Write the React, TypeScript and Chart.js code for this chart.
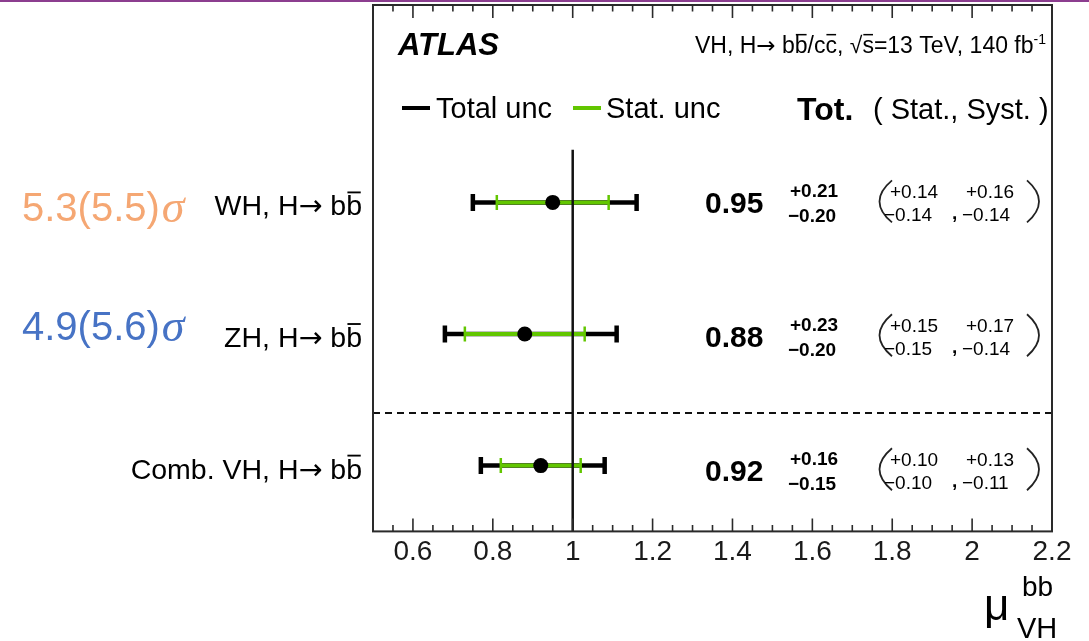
import React, { useEffect, useRef } from "react";
import { Chart, registerables } from "chart.js";

Chart.register(...registerables);

// Measurements: signal strength per channel with total / stat / syst uncertainties
const categories = ["WH", "ZH", "Comb. VH"];
const rowPositions = [3, 2, 1];
const muValues = [0.95, 0.88, 0.92];
const totalUp = [0.21, 0.23, 0.16];
const totalDown = [0.2, 0.2, 0.15];
const statUp = [0.14, 0.15, 0.1];
const statDown = [0.14, 0.15, 0.1];
const systUp = [0.16, 0.17, 0.13];
const systDown = [0.14, 0.14, 0.11];

// Observed (expected) significances for the individual channels
const observedSignificance = [5.3, 4.9];
const expectedSignificance = [5.5, 5.6];
const significanceColors = ["#F5A773", "#4773C5"];

// Axis
const xTickValues = [0.6, 0.8, 1.0, 1.2, 1.4, 1.6, 1.8, 2.0, 2.2];
const X_MIN = 0.5;
const X_MAX = 2.2;
const Y_MIN = 0.5;
const Y_MAX = 4.5;
const REFERENCE_MU = 1;
const REFERENCE_TOP = 3.4;
const SEPARATOR_Y = 1.4;

const SANS = '"Liberation Sans", Arial, Helvetica, sans-serif';
const ARROW = '"DejaVu Sans", sans-serif';
const SERIF = '"Liberation Serif", "DejaVu Serif", serif';
const BLACK = "#000000";
const GREEN = "#62C600";

type Seg = { t: string; bar?: boolean; sup?: boolean; family?: string };

function drawRich(
  ctx: CanvasRenderingContext2D,
  segs: Seg[],
  x: number,
  baseline: number,
  size: number,
  weight: string,
  align: "left" | "right",
  color: string
) {
  const fontOf = (s: Seg) =>
    `${weight} ${s.sup ? Math.round(size * 0.62) : size}px ${s.family || SANS}`;
  const widths = segs.map((s) => {
    ctx.font = fontOf(s);
    return ctx.measureText(s.t).width;
  });
  const total = widths.reduce((a, b) => a + b, 0);
  let cx = align === "right" ? x - total : x;
  ctx.fillStyle = color;
  ctx.textAlign = "left";
  ctx.textBaseline = "alphabetic";
  segs.forEach((s, k) => {
    ctx.font = fontOf(s);
    const by = s.sup ? baseline - size * 0.42 : baseline;
    ctx.fillText(s.t, cx, by);
    if (s.bar) {
      const w = widths[k];
      ctx.fillRect(cx + w * 0.08, baseline - size * 0.84, w * 0.84, Math.max(1.3, size * 0.065));
    }
    cx += widths[k];
  });
}

function text(
  ctx: CanvasRenderingContext2D,
  s: string,
  x: number,
  centerY: number,
  font: string,
  size: number,
  align: CanvasTextAlign = "left",
  color = BLACK
) {
  ctx.font = font;
  ctx.fillStyle = color;
  ctx.textAlign = align;
  ctx.textBaseline = "alphabetic";
  ctx.fillText(s, x, centerY + size * 0.358);
}

function paren(ctx: CanvasRenderingContext2D, endX: number, bulgeX: number, cy: number, half: number) {
  ctx.beginPath();
  ctx.moveTo(endX, cy - half);
  ctx.quadraticCurveTo(bulgeX, cy, endX, cy + half);
  ctx.stroke();
}

const fmtUp = (v: number) => `+${v.toFixed(2)}`;
const fmtDown = (v: number) => `\u2212${v.toFixed(2)}`;

const decorations = {
  id: "atlasDecorations",
  afterDraw(chart: any) {
    const { ctx, chartArea: a, scales } = chart;
    const xs = scales.x;
    const ys = scales.y;
    ctx.save();

    // slide rule along the top edge
    ctx.fillStyle = "#8C3D8F";
    ctx.fillRect(0, 0, chart.width, 2);

    // frame
    ctx.strokeStyle = "#2a2a2a";
    ctx.lineWidth = 2;
    ctx.strokeRect(a.left, a.top, a.right - a.left, a.bottom - a.top);

    // inward tick marks on the top and bottom edges
    ctx.lineWidth = 1.6;
    for (let i = 11; i < 44; i++) {
      const v = i / 20;
      const px = xs.getPixelForValue(v);
      const len = i % 4 === 0 ? 13 : 6.5;
      ctx.beginPath();
      ctx.moveTo(px, a.bottom);
      ctx.lineTo(px, a.bottom - len);
      ctx.moveTo(px, a.top);
      ctx.lineTo(px, a.top + len);
      ctx.stroke();
    }

    // header
    text(ctx, "ATLAS", 398, 44, `italic bold 31px ${SANS}`, 31);
    drawRich(
      ctx,
      [
        { t: "VH, H" },
        { t: "\u2192", family: ARROW },
        { t: " b" },
        { t: "b", bar: true },
        { t: "/c" },
        { t: "c", bar: true },
        { t: ", \u221A" },
        { t: "s", bar: true },
        { t: "=13 TeV, 140 fb" },
        { t: "-1", sup: true },
      ],
      1046,
      45 + 23 * 0.358,
      23,
      "normal",
      "right",
      BLACK
    );

    // legend
    ctx.fillStyle = BLACK;
    ctx.fillRect(402, 106, 28, 4);
    text(ctx, "Total unc", 436, 108, `29px ${SANS}`, 29);
    ctx.fillStyle = GREEN;
    ctx.fillRect(573, 106, 28, 4);
    text(ctx, "Stat. unc", 606, 108, `29px ${SANS}`, 29);
    text(ctx, "Tot.", 797, 109, `bold 32px ${SANS}`, 32);
    text(ctx, "( Stat., Syst. )", 873, 109, `29px ${SANS}`, 29);

    // per-row annotations
    categories.forEach((name, i) => {
      const cy = ys.getPixelForValue(rowPositions[i]);
      const ty = cy + (rowPositions[0] - rowPositions[i]) * 2.3;

      drawRich(
        ctx,
        [{ t: `${name}, H` }, { t: "\u2192", family: ARROW }, { t: " b" }, { t: "b", bar: true }],
        362,
        cy + 3 + 28 * 0.358,
        28.5,
        "normal",
        "right",
        BLACK
      );

      if (i < observedSignificance.length) {
        const sy = cy + (i === 0 ? 4 : -8);
        const main = `${observedSignificance[i].toFixed(1)}(${expectedSignificance[i].toFixed(1)})`;
        ctx.font = `40px ${SANS}`;
        const w = ctx.measureText(main).width;
        text(ctx, main, 22, sy, `40px ${SANS}`, 40, "left", significanceColors[i]);
        text(ctx, "\u03C3", 22 + w + 2, sy + 1, `italic 46px ${SERIF}`, 40, "left", significanceColors[i]);
      }

      text(ctx, muValues[i].toFixed(2), 705, ty, `bold 30px ${SANS}`, 30);
      text(ctx, fmtUp(totalUp[i]), 790, ty - 12, `bold 19px ${SANS}`, 19);
      text(ctx, fmtDown(totalDown[i]), 788, ty + 13, `bold 19px ${SANS}`, 19);

      ctx.strokeStyle = "#222222";
      ctx.lineWidth = 1.8;
      paren(ctx, 892, 867, ty - 1, 21);
      paren(ctx, 1027, 1051, ty - 1, 21);

      text(ctx, fmtUp(statUp[i]), 890, ty - 11, `19px ${SANS}`, 19);
      text(ctx, fmtDown(statDown[i]), 884, ty + 12, `19px ${SANS}`, 19);
      text(ctx, ",", 952, ty + 10, `bold 19px ${SANS}`, 19);
      text(ctx, fmtUp(systUp[i]), 966, ty - 11, `19px ${SANS}`, 19);
      text(ctx, fmtDown(systDown[i]), 962, ty + 12, `19px ${SANS}`, 19);
    });

    // axis title
    ctx.fillStyle = BLACK;
    ctx.textAlign = "left";
    ctx.textBaseline = "alphabetic";
    ctx.font = `44px ${SANS}`;
    ctx.fillText("\u03BC", 984, 620);
    ctx.font = `28px ${SANS}`;
    ctx.fillText("bb", 1022, 596);
    ctx.font = `29px ${SANS}`;
    ctx.fillText("VH", 1017, 638);

    ctx.restore();
  },
};

export default function App() {
  const canvasRef = useRef<HTMLCanvasElement | null>(null);

  useEffect(() => {
    const canvas = canvasRef.current;
    if (!canvas) return;

    const datasets: any[] = [];
    categories.forEach((_, i) => {
      const yv = rowPositions[i];
      datasets.push({
        label: `total-${i}`,
        data: [
          { x: muValues[i] - totalDown[i], y: yv },
          { x: muValues[i] + totalUp[i], y: yv },
        ],
        showLine: true,
        borderColor: BLACK,
        borderWidth: 4.5,
        pointStyle: "line",
        rotation: 90,
        pointRadius: 8.5,
        pointBorderWidth: 4.5,
        pointBorderColor: BLACK,
        pointBackgroundColor: BLACK,
        order: 4,
      });
      datasets.push({
        label: `stat-${i}`,
        data: [
          { x: muValues[i] - statDown[i], y: yv },
          { x: muValues[i] + statUp[i], y: yv },
        ],
        showLine: true,
        borderColor: GREEN,
        borderWidth: 4,
        pointStyle: "line",
        rotation: 90,
        pointRadius: 7.5,
        pointBorderWidth: 2.5,
        pointBorderColor: GREEN,
        pointBackgroundColor: GREEN,
        order: 3,
      });
    });
    datasets.push({
      label: "mu",
      data: muValues.map((m, i) => ({ x: m, y: rowPositions[i] })),
      pointStyle: "circle",
      pointRadius: 7.5,
      pointBorderWidth: 0,
      backgroundColor: BLACK,
      borderColor: BLACK,
      order: 2,
    });
    datasets.push({
      label: "sm",
      data: [
        { x: REFERENCE_MU, y: Y_MIN },
        { x: REFERENCE_MU, y: REFERENCE_TOP },
      ],
      showLine: true,
      borderColor: "#111111",
      borderWidth: 2.5,
      pointRadius: 0,
      order: 1,
    });
    datasets.push({
      label: "separator",
      data: [
        { x: X_MIN, y: SEPARATOR_Y },
        { x: X_MAX, y: SEPARATOR_Y },
      ],
      showLine: true,
      borderColor: "#111111",
      borderWidth: 2,
      borderDash: [7, 5],
      pointRadius: 0,
      order: 5,
    });

    const chart = new Chart(canvas, {
      type: "scatter",
      data: { datasets },
      options: {
        responsive: false,
        animation: false,
        devicePixelRatio: 1,
        events: [],
        layout: { autoPadding: false, padding: { left: 373, right: 37, top: 5, bottom: 68 } },
        plugins: {
          legend: { display: false },
          tooltip: { enabled: false },
        },
        scales: {
          x: {
            type: "linear",
            min: X_MIN,
            max: X_MAX,
            afterBuildTicks: (scale: any) => {
              scale.ticks = xTickValues.map((v) => ({ value: v }));
            },
            ticks: {
              padding: 4,
              color: "#1a1a1a",
              font: { family: SANS, size: 28 },
              autoSkip: false,
              maxRotation: 0,
              callback: (v: any) => String(Number(Number(v).toFixed(1))),
            },
            grid: { display: false, drawTicks: false },
            border: { display: false },
          },
          y: {
            type: "linear",
            min: Y_MIN,
            max: Y_MAX,
            display: false,
          },
        },
      },
      plugins: [decorations],
    });

    return () => chart.destroy();
  }, []);

  return (
    <div style={{ position: "fixed", left: 0, top: 0, width: 1089, height: 641, background: "#fff" }}>
      <canvas ref={canvasRef} width={1089} height={641} />
    </div>
  );
}
